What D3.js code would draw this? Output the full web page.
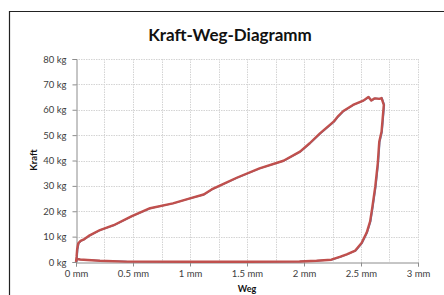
<!DOCTYPE html>
<html><head><meta charset="utf-8">
<script src="https://cdn.jsdelivr.net/npm/d3@7"></script>
<style>body{margin:0;background:#fff}svg{display:block}</style>
</head><body>
<script>
const weg = [0,0.005,0.01,0.02,0.04,0.065,0.12,0.21,0.33,0.49,0.65,0.85,1.0,1.12,1.19,1.28,1.41,1.61,1.82,1.965,2.05,2.14,2.26,2.30,2.345,2.43,2.52,2.565,2.59,2.62,2.66,2.68,2.70,2.69,2.68,2.66,2.647,2.625,2.60,2.58,2.55,2.505,2.45,2.375,2.32,2.24,2.11,1.96,1.5,1.0,0.44,0.21,0.1,0.035,0.01,0];
const kraft = [0,2,5,7.4,8.3,8.8,10.5,12.6,14.5,18.1,21.2,23.1,25.1,26.6,28.6,30.5,33.2,36.9,39.9,43.5,46.8,50.7,55.3,57.5,59.5,61.9,63.6,65.0,63.6,64.5,64.3,64.6,61.9,56.6,51.3,47.4,38.9,29.7,21.8,16.0,11.6,7.5,4.5,3.0,2.1,0.9,0.5,0.2,0.1,0.1,0.15,0.5,0.8,1.0,1.2,0.5];
const xTicks = [0,0.5,1,1.5,2,2.5,3];
const xTickLabels = ["0 mm","0.5 mm","1 mm","1.5 mm","2 mm","2.5 mm","3 mm"];
const yTicks = [0,10,20,30,40,50,60,70,80];
const yTickLabels = ["0 kg","10 kg","20 kg","30 kg","40 kg","50 kg","60 kg","70 kg","80 kg"];
const xGrid = [0.25,0.5,0.75,1,1.25,1.5,1.75,2,2.25,2.5,2.75,3];
const title = "Kraft-Weg-Diagramm";

const W=444,H=295;
const svg=d3.select("body").append("svg").attr("width",W).attr("height",H);
const font="Lato, 'Open Sans', sans-serif";
svg.append("path").attr("d","M9.5,296 V11.5 H445").attr("fill","none").attr("stroke","#222").attr("stroke-width",1.2);

const x=d3.scaleLinear().domain([0,3]).range([76,418]);
const y=d3.scaleLinear().domain([0,80]).range([262,59]);

const g=svg.append("g");
g.selectAll(".vg").data(xGrid).join("line")
 .attr("x1",d=>Math.round(x(d))+0.5).attr("x2",d=>Math.round(x(d))+0.5)
 .attr("y1",y(80)).attr("y2",y(0))
 .attr("stroke","#d4d4d4").attr("stroke-width",1).attr("stroke-dasharray","1.5,1");
g.selectAll(".hg").data(yTicks.slice(1)).join("line")
 .attr("x1",x(0)).attr("x2",x(3))
 .attr("y1",d=>Math.round(y(d))+0.5).attr("y2",d=>Math.round(y(d))+0.5)
 .attr("stroke","#d4d4d4").attr("stroke-width",1).attr("stroke-dasharray","1.5,1");

const xAxis=d3.axisBottom(x).tickValues(xTicks).tickFormat((d,i)=>xTickLabels[i]).tickSize(4).tickPadding(4);
const yAxis=d3.axisLeft(y).tickValues(yTicks).tickFormat((d,i)=>yTickLabels[i]).tickSize(4).tickPadding(6);
const ax=svg.append("g").attr("transform",`translate(0,${Math.round(y(0))+0.5})`).call(xAxis);
const ay=svg.append("g").attr("transform",`translate(${Math.round(x(0))+0.5},0)`).call(yAxis);
[ax,ay].forEach(a=>{
  a.select(".domain").attr("stroke","#8c8c8c");
  a.selectAll(".tick line").attr("stroke","#8c8c8c");
  a.selectAll("text").attr("font-family",font).attr("font-size","9.5px").attr("fill","#404040");
});

const pts=weg.map((w,i)=>[w,kraft[i]]);
const line=d3.line().x(d=>x(d[0])).y(d=>y(d[1])).curve(d3.curveLinear);
svg.append("path").datum(pts).attr("d",line).attr("fill","none").attr("stroke","#4f81bd").attr("stroke-width",1.5).attr("transform","translate(0.6,0)");
svg.append("path").datum(pts).attr("d",line).attr("fill","none").attr("stroke","#c0504d").attr("stroke-width",2.4).attr("stroke-linejoin","round");

svg.append("text").attr("x",230).attr("y",41).attr("text-anchor","middle")
 .attr("font-family",font).attr("font-weight","bold").attr("font-size","17px").attr("fill","#111").text(title);
svg.append("text").attr("transform","translate(37,160) rotate(-90)").attr("text-anchor","middle")
 .attr("font-family",font).attr("font-weight","bold").attr("font-size","9.5px").attr("fill","#111").text("Kraft");
svg.append("text").attr("x",247).attr("y",291.5).attr("text-anchor","middle")
 .attr("font-family",font).attr("font-weight","bold").attr("font-size","9px").attr("fill","#111").text("Weg");
</script>
</body></html>
